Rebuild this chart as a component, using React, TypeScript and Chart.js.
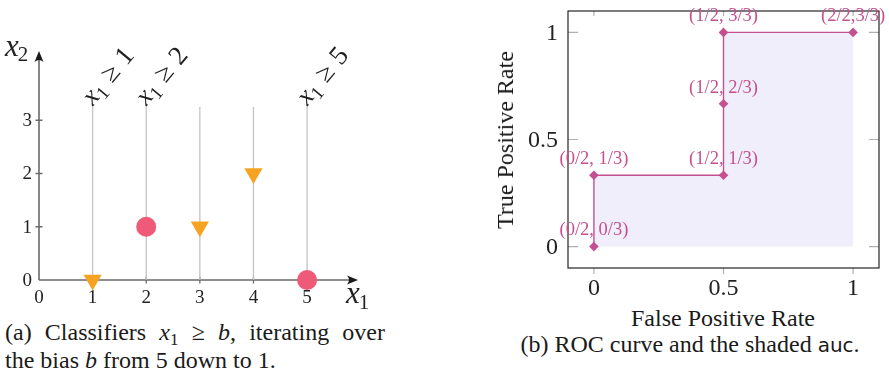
import React, { useEffect, useRef } from 'react';
import { Chart, registerables } from 'chart.js';
Chart.register(...registerables);

// ---------- data: panel (a) ----------
const thresholds = [1, 2, 3, 4, 5];
const labeledThresholds = [1, 2, 5];
const thresholdLineTop = 3.25;
const negativeX = [1, 3, 4];
const negativeY = [0, 1, 2];
const positiveX = [2, 5];
const positiveY = [1, 0];
const xTicksA = [0, 1, 2, 3, 4, 5];
const yTicksA = [0, 1, 2, 3];
const xMaxA = 5.95;
const yMaxA = 4.3;

// ---------- data: panel (b) ----------
const fpr = [0, 0, 0.5, 0.5, 0.5, 1];
const tpr = [0, 1 / 3, 1 / 3, 2 / 3, 1, 1];
const rocPointLabels = ['(0/2, 0/3)', '(0/2, 1/3)', '(1/2, 1/3)', '(1/2, 2/3)', '(1/2, 3/3)', '(2/2,3/3)'];
const rocTicks = [0, 0.5, 1];
const rocTickLabels = ['0', '0.5', '1'];
const rocMin = -0.1;
const rocMax = 1.1;

const SERIF = '"Liberation Serif", "Times New Roman", serif';
const ORANGE = '#F5A321';
const PINK = '#EE5A78';
const MAGENTA = '#C4508F';
const FILL = '#F0EEFA';

type Part = { t: string; size: number; italic?: boolean; dy?: number; gap?: number };

function drawParts(ctx: CanvasRenderingContext2D, parts: Part[], x: number, y: number) {
  let cx = x;
  ctx.textAlign = 'left';
  ctx.textBaseline = 'alphabetic';
  for (const p of parts) {
    cx += p.gap || 0;
    ctx.font = `${p.italic ? 'italic ' : ''}${p.size}px ${SERIF}`;
    ctx.fillText(p.t, cx, y + (p.dy || 0));
    cx += ctx.measureText(p.t).width;
  }
}

function arrowHead(ctx: CanvasRenderingContext2D, x: number, y: number, angle: number) {
  ctx.save();
  ctx.translate(x, y);
  ctx.rotate(angle);
  ctx.beginPath();
  ctx.moveTo(0, 0);
  ctx.lineTo(-11, -4.5);
  ctx.quadraticCurveTo(-7, 0, -11, 4.5);
  ctx.closePath();
  ctx.fillStyle = '#1a1a1a';
  ctx.fill();
  ctx.restore();
}

function LeftChart() {
  const ref = useRef<HTMLCanvasElement>(null);
  useEffect(() => {
    const plugin = {
      id: 'axesA',
      beforeDatasetsDraw(chart: any) {
        const ctx: CanvasRenderingContext2D = chart.ctx;
        const xs = chart.scales.x;
        const ys = chart.scales.y;
        const x0 = xs.getPixelForValue(0);
        const y0 = ys.getPixelForValue(0);
        const xEnd = xs.getPixelForValue(xMaxA);
        const yEnd = ys.getPixelForValue(yMaxA);
        ctx.save();
        ctx.strokeStyle = '#6a6a6a';
        ctx.lineWidth = 1.6;
        ctx.beginPath();
        ctx.moveTo(x0, y0);
        ctx.lineTo(xEnd - 6, y0);
        ctx.moveTo(x0, y0);
        ctx.lineTo(x0, yEnd + 6);
        ctx.stroke();
        // ticks
        ctx.lineWidth = 1.3;
        ctx.beginPath();
        for (const v of xTicksA) {
          if (v === 0) continue;
          const px = xs.getPixelForValue(v);
          ctx.moveTo(px, y0 - 3.5);
          ctx.lineTo(px, y0 + 3.5);
        }
        for (const v of yTicksA) {
          if (v === 0) continue;
          const py = ys.getPixelForValue(v);
          ctx.moveTo(x0 - 3.5, py);
          ctx.lineTo(x0 + 3.5, py);
        }
        ctx.stroke();
        arrowHead(ctx, xEnd, y0, 0);
        arrowHead(ctx, x0, yEnd, -Math.PI / 2);
        // tick labels
        ctx.fillStyle = '#222';
        ctx.font = `19px ${SERIF}`;
        ctx.textAlign = 'center';
        ctx.textBaseline = 'middle';
        for (const v of xTicksA) {
          ctx.fillText(String(v), xs.getPixelForValue(v), y0 + 18);
        }
        ctx.textAlign = 'right';
        for (const v of yTicksA) {
          ctx.fillText(String(v), x0 - 7, ys.getPixelForValue(v) + 1);
        }
        // axis labels
        drawParts(ctx, [
          { t: 'x', size: 31, italic: true },
          { t: '2', size: 21, dy: 5, gap: -1 },
        ], x0 - 34, yEnd + 5);
        drawParts(ctx, [
          { t: 'x', size: 31, italic: true },
          { t: '1', size: 21, dy: 6, gap: -1 },
        ], xEnd - 12, y0 + 23);
        // threshold labels
        for (const b of labeledThresholds) {
          const px = xs.getPixelForValue(b);
          const py = ys.getPixelForValue(thresholdLineTop);
          ctx.save();
          ctx.translate(px - 5, py - 5);
          ctx.rotate(-50 * Math.PI / 180);
          drawParts(ctx, [
            { t: 'x', size: 27, italic: true },
            { t: '1', size: 19, dy: 5 },
            { t: '\u2265', size: 27, gap: 8 },
            { t: String(b), size: 27, gap: 8 },
          ], 0, 7);
          ctx.restore();
        }
        ctx.restore();
      },
    };
    const lineSets = thresholds.map((b) => ({
      type: 'scatter' as const,
      data: [{ x: b, y: 0 }, { x: b, y: thresholdLineTop }],
      showLine: true,
      borderColor: '#c4c4c4',
      borderWidth: 1.3,
      pointRadius: 0,
      order: 10,
      clip: false as any,
    }));
    const chart = new Chart(ref.current as HTMLCanvasElement, {
      type: 'scatter',
      data: {
        datasets: [
          {
            data: negativeX.map((x, i) => ({ x, y: negativeY[i] })),
            pointStyle: 'triangle',
            rotation: 180,
            pointRadius: 10.5,
            backgroundColor: ORANGE,
            borderWidth: 0,
            order: 1,
            clip: false as any,
          },
          {
            data: positiveX.map((x, i) => ({ x, y: positiveY[i] })),
            pointStyle: 'circle',
            pointRadius: 10,
            backgroundColor: PINK,
            borderWidth: 0,
            order: 1,
            clip: false as any,
          },
          ...lineSets,
        ] as any,
      },
      options: {
        animation: false,
        responsive: false,
        devicePixelRatio: 1,
        events: [],
        layout: { padding: { left: 39, right: 22, top: 51, bottom: 30 } },
        plugins: { legend: { display: false }, tooltip: { enabled: false } },
        scales: {
          x: { type: 'linear', min: 0, max: xMaxA, display: false },
          y: { type: 'linear', min: 0, max: yMaxA, display: false },
        },
      },
      plugins: [plugin],
    });
    return () => chart.destroy();
  }, []);
  return (
    <canvas
      ref={ref}
      width={380}
      height={310}
      style={{ position: 'absolute', left: 0, top: 0, width: 380, height: 310 }}
    />
  );
}

function RightChart() {
  const ref = useRef<HTMLCanvasElement>(null);
  useEffect(() => {
    const plugin = {
      id: 'frameB',
      beforeDatasetsDraw(chart: any) {
        const ctx: CanvasRenderingContext2D = chart.ctx;
        const { left, right, top, bottom } = chart.chartArea;
        const xs = chart.scales.x;
        const ys = chart.scales.y;
        ctx.save();
        ctx.strokeStyle = '#b0b0b0';
        ctx.lineWidth = 1.2;
        ctx.beginPath();
        for (const v of rocTicks) {
          const px = xs.getPixelForValue(v);
          ctx.moveTo(px, top);
          ctx.lineTo(px, top + 5);
          ctx.moveTo(px, bottom);
          ctx.lineTo(px, bottom + 6);
          const py = ys.getPixelForValue(v);
          ctx.moveTo(left, py);
          ctx.lineTo(left + 10, py);
          ctx.moveTo(right, py);
          ctx.lineTo(right - 10, py);
        }
        ctx.stroke();
        ctx.strokeStyle = '#111';
        ctx.lineWidth = 1.1;
        ctx.strokeRect(left, top, right - left, bottom - top);
        ctx.fillStyle = '#222';
        ctx.font = `24px ${SERIF}`;
        ctx.textAlign = 'center';
        ctx.textBaseline = 'middle';
        rocTicks.forEach((v, i) => {
          ctx.fillText(rocTickLabels[i], xs.getPixelForValue(v), bottom + 21);
        });
        ctx.textAlign = 'right';
        rocTicks.forEach((v, i) => {
          ctx.fillText(rocTickLabels[i], left - 10, ys.getPixelForValue(v) + 1);
        });
        ctx.restore();
      },
      afterDatasetsDraw(chart: any) {
        const ctx: CanvasRenderingContext2D = chart.ctx;
        const xs = chart.scales.x;
        const ys = chart.scales.y;
        ctx.save();
        ctx.fillStyle = MAGENTA;
        ctx.font = `18.5px ${SERIF}`;
        ctx.textAlign = 'center';
        ctx.textBaseline = 'middle';
        rocPointLabels.forEach((lab, i) => {
          ctx.fillText(lab, xs.getPixelForValue(fpr[i]), ys.getPixelForValue(tpr[i]) - 16);
        });
        ctx.restore();
      },
    };
    const chart = new Chart(ref.current as HTMLCanvasElement, {
      type: 'scatter',
      data: {
        datasets: [
          {
            data: fpr.map((x, i) => ({ x, y: tpr[i] })),
            showLine: true,
            borderColor: MAGENTA,
            borderWidth: 1.4,
            fill: 'origin',
            backgroundColor: FILL,
            pointStyle: 'rectRot',
            pointRadius: 4.8,
            pointBackgroundColor: MAGENTA,
            pointBorderWidth: 0,
            clip: false as any,
          } as any,
        ],
      },
      options: {
        animation: false,
        responsive: false,
        devicePixelRatio: 1,
        events: [],
        layout: { padding: { left: 88, right: 10, top: 11, bottom: 32 } },
        plugins: { legend: { display: false }, tooltip: { enabled: false } },
        scales: {
          x: { type: 'linear', min: rocMin, max: rocMax, display: false },
          y: { type: 'linear', min: rocMin, max: rocMax, display: false },
        },
      },
      plugins: [plugin],
    });
    return () => chart.destroy();
  }, []);
  return (
    <canvas
      ref={ref}
      width={409}
      height={300}
      style={{ position: 'absolute', left: 480, top: 0, width: 409, height: 300 }}
    />
  );
}

const textBase: React.CSSProperties = {
  position: 'absolute',
  fontFamily: SERIF,
  fontSize: 24,
  lineHeight: '24px',
  color: '#1a1a1a',
  whiteSpace: 'nowrap',
};

const sub: React.CSSProperties = { fontSize: 17, position: 'relative', top: 5 };

export default function App() {
  return (
    <div style={{ position: 'absolute', left: 0, top: 0, width: 889, height: 375, background: '#fff', overflow: 'hidden' }}>
      <LeftChart />
      <RightChart />
      <div style={{ ...textBase, left: 5, top: 320, width: 380, textAlign: 'justify', textAlignLast: 'justify' as any }}>
        (a) Classifiers <i>x</i><span style={sub}>1</span> &ge; <i>b</i>, iterating over
      </div>
      <div style={{ ...textBase, left: 5, top: 348 }}>
        the bias <i>b</i> from 5 down to 1.
      </div>
      <div
        style={{
          ...textBase,
          left: 505,
          top: 140,
          transform: 'translate(-50%, -50%) rotate(-90deg)',
        }}
      >
        True Positive Rate
      </div>
      <div style={{ ...textBase, left: 723, top: 306, transform: 'translateX(-50%)' }}>
        False Positive Rate
      </div>
      <div style={{ ...textBase, left: 690, top: 332, transform: 'translateX(-50%)' }}>
        (b) ROC curve and the shaded <span style={{ fontFamily: '"DejaVu Sans", sans-serif', fontSize: 20 }}>auc</span>.
      </div>
    </div>
  );
}
